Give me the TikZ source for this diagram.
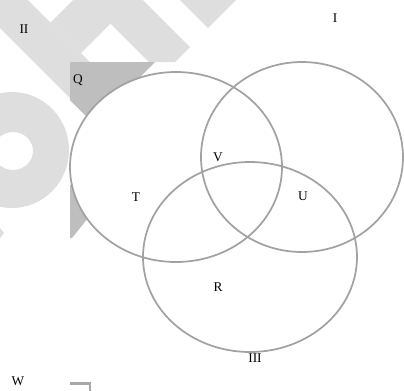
\documentclass[tikz,border=0pt]{standalone}
\usepackage{fontspec}
\setmainfont{Liberation Serif}
\definecolor{wmlight}{HTML}{DEDEDE}
\definecolor{wmdark}{HTML}{BEBEBE}
\definecolor{vennline}{HTML}{A2A2A2}
\definecolor{bracketc}{HTML}{A8A8A8}
\begin{document}
\begin{tikzpicture}[x=0.75pt,y=-0.75pt,
  wm/.style={fill=wmlight},
  wmd/.style={fill=wmdark},
  venn/.style={draw=vennline,line width=1.3pt},
  lbl/.style={font=\fontsize{10}{12}\selectfont,inner sep=0pt,text=black}]
\useasboundingbox (0,0) rectangle (404,390);
% watermark (light)
\fill[wm] (0,0) -- (28,0) -- (90,62) -- (70,62) -- (70,98) -- (0,28) -- cycle;
\fill[wm] (73,0) -- (134,0) -- (81,53) -- (50.5,22.5) -- cycle;
\fill[wm] (87,0) -- (143,0) -- (190,47) -- (175,62) -- (149,62) -- cycle;
\fill[wm] (180,0) -- (236,0) -- (208,28) -- cycle;
\fill[wm,even odd rule] (12,150) ellipse [x radius=42.75pt,y radius=43.5pt]
                        (13,151) ellipse [x radius=15pt,y radius=14.25pt];
\fill[wm] (0,228) -- (4,233) -- (0,238) -- cycle;
% watermark (dark, inside picture area)
\fill[wmd] (70,62) -- (155,62) -- (93.5,123.5) -- (70,100) -- cycle;
\fill[wmd] (70,185) -- (88,185) -- (88,218) -- (72,238) -- (70,238) -- cycle;
\fill[white] (176,167) ellipse [x radius=79.5pt,y radius=71.25pt];
% Venn ellipses
\draw[venn] (176,167) ellipse [x radius=79.5pt,y radius=71.25pt];
\draw[venn] (302,157) ellipse [x radius=75.75pt,y radius=71.25pt];
\draw[venn] (250,257) ellipse [x radius=80.25pt,y radius=71.25pt];
% labels
\node[lbl] (lII) at (24,29) {II};
\node[lbl] (lI) at (335,18) {I};
\node[lbl] (lQ) at (78,80) {Q};
\node[lbl] (lV) at (218,157.5) {V};
\node[lbl] (lT) at (136,197) {T};
\node[lbl] (lU) at (303,196) {U};
\node[lbl] (lR) at (218,287) {R};
\node[lbl] (lIII) at (255,358) {III};
\node[lbl] (lW) at (18,381) {W};
% small corner mark
\draw[draw=bracketc,line width=2pt] (70,383.5) -- (90,383.5) -- (90,392);
\end{tikzpicture}
\end{document}
